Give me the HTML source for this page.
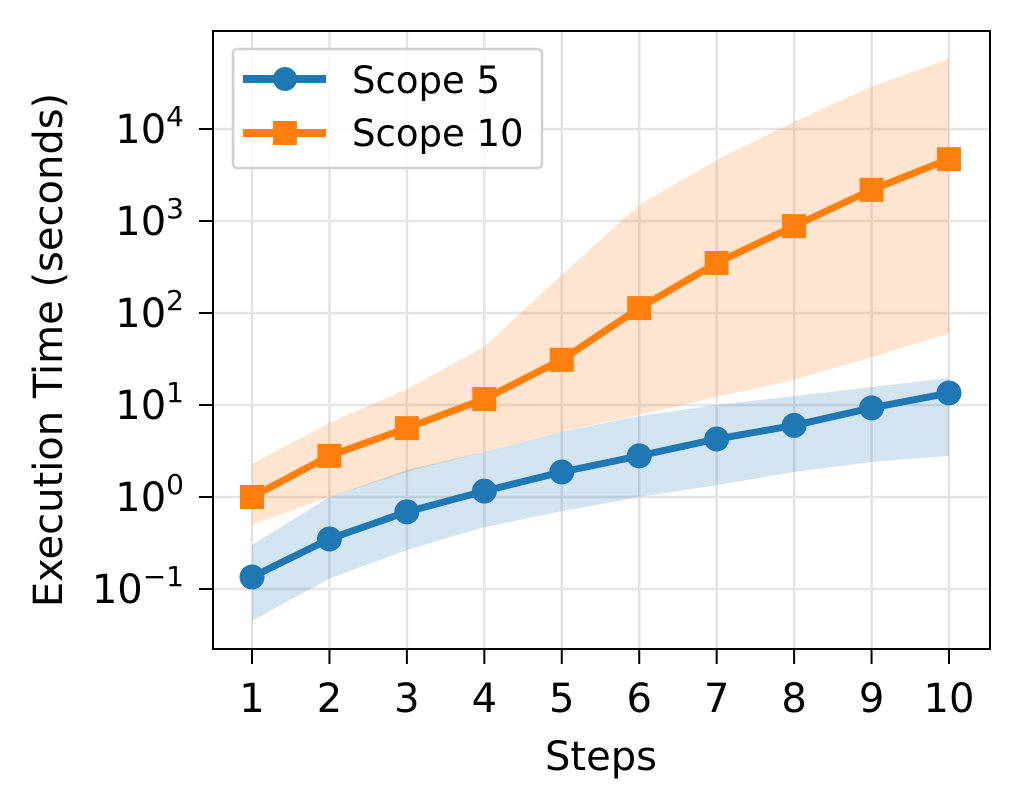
<!DOCTYPE html>
<html><head><meta charset="utf-8"><style>
html,body{margin:0;padding:0;background:#fff}
svg{display:block;font-family:"DejaVu Sans","Liberation Sans",sans-serif}
</style></head><body>
<svg id="chart" width="1018" height="810" viewBox="0 0 1018 810" xmlns="http://www.w3.org/2000/svg">
<rect width="1018" height="810" fill="#fff"/>
<g id="grid"></g>
<g id="bands"></g>
<g id="lines"></g>
<rect x="213" y="31" width="777" height="618" fill="none" stroke="#000" stroke-width="2"/>
<g id="axes"></g>
<text x="601" y="770" font-size="40" text-anchor="middle">Steps</text>
<text transform="translate(62,350) rotate(-90)" font-size="40" text-anchor="middle">Execution Time (seconds)</text>
<g>
<rect x="233" y="49" width="309" height="119" rx="4" fill="#fff" fill-opacity="0.8" stroke="#d0d0d0" stroke-width="2.5"/>
<g>
<line x1="243" y1="79" x2="326" y2="79" stroke="#1f77b4" stroke-width="8"/>
<circle cx="285" cy="79" r="12" fill="#1f77b4"/>
<text x="352" y="93" font-size="37">Scope 5</text></g>
<g>
<line x1="243" y1="133" x2="326" y2="133" stroke="#ff7f0e" stroke-width="8"/>
<rect x="273" y="121" width="24" height="24" fill="#ff7f0e"/>
<text x="352" y="146" font-size="37">Scope 10</text></g>
</g>
</svg>
<script>
const steps=[1,2,3,4,5,6,7,8,9,10];
const scope5=[0.135,0.35,0.69,1.16,1.87,2.8,4.27,6.0,9.3,13.5];
const scope5Low=[0.045,0.13,0.265,0.47,0.70,1.0,1.35,1.87,2.4,2.8];
const scope5High=[0.30,1.0,1.97,3.1,5.1,7.6,10,12.5,15.7,19.6];
const scope10=[1,2.8,5.6,11.6,31,113,350,880,2180,4700];
const scope10Low=[0.50,1.0,1.87,3.1,5.1,7.8,12.2,18.7,33,60];
const scope10High=[2.3,6.4,14.9,43,260,1500,4600,12000,29000,58000];
const yTickExps=[-1,0,1,2,3,4];
const NS="http://www.w3.org/2000/svg";
const X=s=>252+(s-1)*(949-252)/9;
const Y=v=>497-Math.log10(v)*92;
function mk(parent,tag,attrs){const e=document.createElementNS(NS,tag);for(const k in attrs)e.setAttribute(k,attrs[k]);document.getElementById(parent).appendChild(e);return e;}
steps.forEach(s=>{
  const g=mk('grid','line',{x1:X(s),x2:X(s),y1:31,y2:649,stroke:'#e4e4e4','stroke-width':2.5});
  
  
  const t=mk('axes','line',{x1:X(s),x2:X(s),y1:649,y2:664,stroke:'#000','stroke-width':2});
  
  
  const l=mk('axes','text',{x:X(s),y:712,'font-size':40,'text-anchor':'middle'});
  l.textContent=s;
  
  
});
yTickExps.forEach(e=>{
  const y=Y(Math.pow(10,e));
  const g=mk('grid','line',{x1:213,x2:990,y1:y,y2:y,stroke:'#e4e4e4','stroke-width':2.5});
  
  
  const t=mk('axes','line',{x1:199,x2:213,y1:y,y2:y,stroke:'#000','stroke-width':2});
  
  
  const l=mk('axes','text',{x:184,y:y+14,'font-size':40,'text-anchor':'end'});
  l.innerHTML='10<tspan dy="-17" font-size="28">'+(e<0?'\u2212'+(-e):e)+'</tspan>';
  
  
});
function band(lo,hi,color,name){
  let d='M'+steps.map((s,i)=>X(s)+','+Y(hi[i])).join('L');
  d+='L'+steps.slice().reverse().map((s,k)=>{const i=steps.length-1-k;return X(s)+','+Y(lo[i]);}).join('L')+'Z';
  const p=mk('bands','path',{d:d,fill:color,'fill-opacity':0.2});
  
  
}
band(scope10Low,scope10High,'#ff7f0e','scope-10-band');
band(scope5Low,scope5High,'#1f77b4','scope-5-band');
function series(vals,color,marker,name){
  const p=mk('lines','polyline',{points:steps.map((s,i)=>X(s)+','+Y(vals[i])).join(' '),fill:'none',stroke:color,'stroke-width':7,'stroke-linejoin':'round'});
  
  
  steps.forEach((s,i)=>{
    let m;
    if(marker==='circle') m=mk('lines','circle',{cx:X(s),cy:Y(vals[i]),r:12.5,fill:color});
    else m=mk('lines','rect',{x:X(s)-12,y:Y(vals[i])-12,width:24,height:24,fill:color});
    
    
  });
}
series(scope5,'#1f77b4','circle','scope-5');
series(scope10,'#ff7f0e','square','scope-10');
</script>
</body></html>
